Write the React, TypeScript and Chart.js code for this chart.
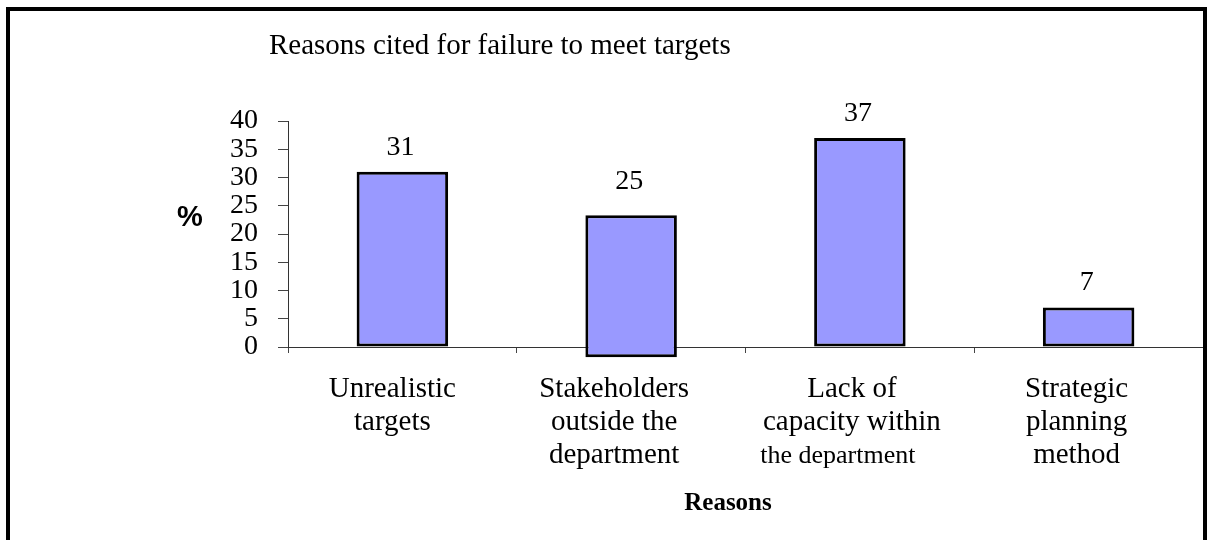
import React, { useEffect, useRef } from "react";
import { Chart, registerables } from "chart.js";

Chart.register(...registerables);

const chartTitle = "Reasons cited for failure to meet targets";
const categories: string[][] = [
  ["Unrealistic", "targets"],
  ["Stakeholders", "outside the", "department"],
  ["Lack of", "capacity within", "the department"],
  ["Strategic", "planning", "method"],
];
const valueLabels = [31, 25, 37, 7];
const barStarts = [0, -1.8, 0, 0];
const barEnds = [31, 23.3, 37, 7];
const yTicks = [0, 5, 10, 15, 20, 25, 30, 35, 40];
const yAxisTitle = "%";
const xAxisTitle = "Reasons";

const SERIF = '"Liberation Serif", "Times New Roman", serif';
const SANS = '"Liberation Sans", Arial, sans-serif';

const decorPlugin = {
  id: "decor",
  afterDraw(chart: any) {
    const ctx = chart.ctx;
    const x = chart.scales.x;
    const y = chart.scales.y;
    ctx.save();
    // frame
    ctx.strokeStyle = "#000";
    ctx.lineWidth = 4;
    ctx.strokeRect(8, 9, 1197, 545);
    // title
    ctx.fillStyle = "#000";
    ctx.textAlign = "left";
    ctx.textBaseline = "alphabetic";
    ctx.font = `29px ${SERIF}`;
    ctx.fillText(chartTitle, 269, 54);
    // % label
    ctx.textAlign = "center";
    ctx.textBaseline = "middle";
    ctx.font = `bold 29px ${SANS}`;
    ctx.fillText(yAxisTitle, 190, 218);
    // value labels
    ctx.textBaseline = "alphabetic";
    ctx.font = `28px ${SERIF}`;
    const meta = chart.getDatasetMeta(0);
    valueLabels.forEach((v, i) => {
      const bar = meta.data[i];
      ctx.fillText(String(v), bar.x - 2, y.getPixelForValue(v) - 17);
    });
    // category labels
    const offsets = [-10, -17, -8, -12];
    categories.forEach((lines, i) => {
      const cx = x.getPixelForValue(i) + offsets[i];
      lines.forEach((ln, j) => {
        const small = i === 2 && j === 2;
        ctx.font = small ? `26px ${SERIF}` : `29px ${SERIF}`;
        ctx.fillText(ln, small ? cx - 14 : cx, 397 + j * 33);
      });
    });
    // x axis title
    ctx.font = `bold 25px ${SERIF}`;
    ctx.fillText(xAxisTitle, 728, 510);
    ctx.restore();
  },
};

export default function App() {
  const ref = useRef<HTMLCanvasElement | null>(null);
  useEffect(() => {
    if (!ref.current) return;
    const chart = new Chart(ref.current, {
      type: "bar",
      data: {
        labels: categories.map((c) => c.join(" ")),
        datasets: [
          {
            data: barStarts.map((s, i) => [s, barEnds[i]]) as any,
            backgroundColor: "#9999FF",
            borderColor: "#000000",
            borderWidth: 3,
            borderSkipped: false,
            categoryPercentage: 1,
            barPercentage: 0.4,
            clip: false as any,
          },
        ],
      },
      options: {
        responsive: false,
        animation: false,
        devicePixelRatio: 1,
        layout: { padding: { left: 0, right: 7, top: 121, bottom: 0 } },
        plugins: {
          legend: { display: false },
          tooltip: { enabled: false },
          title: { display: false },
        },
        scales: {
          x: {
            type: "category",
            ticks: { display: false },
            grid: {
              offset: true,
              drawOnChartArea: false,
              drawTicks: true,
              tickLength: 6,
              color: "#444",
            },
            border: { display: true, color: "#333", width: 1 },
            afterFit: (s: any) => {
              s.height = 193;
            },
          },
          y: {
            min: 0,
            max: 40,
            afterBuildTicks: (s: any) => {
              s.ticks = yTicks.map((v) => ({ value: v }));
            },
            ticks: {
              color: "#000",
              padding: 20,
              autoSkip: false,
              font: { family: SERIF, size: 28 },
            },
            grid: {
              drawOnChartArea: false,
              drawTicks: true,
              tickLength: 10,
              color: "#444",
            },
            border: { display: true, color: "#333", width: 1 },
            afterFit: (s: any) => {
              s.width = 288;
            },
          },
        },
      },
      plugins: [decorPlugin],
    });
    return () => chart.destroy();
  }, []);
  return (
    <div style={{ position: "fixed", left: 0, top: 0, width: 1210, height: 540, background: "#fff" }}>
      <canvas ref={ref} width={1210} height={540} style={{ display: "block" }} />
    </div>
  );
}
